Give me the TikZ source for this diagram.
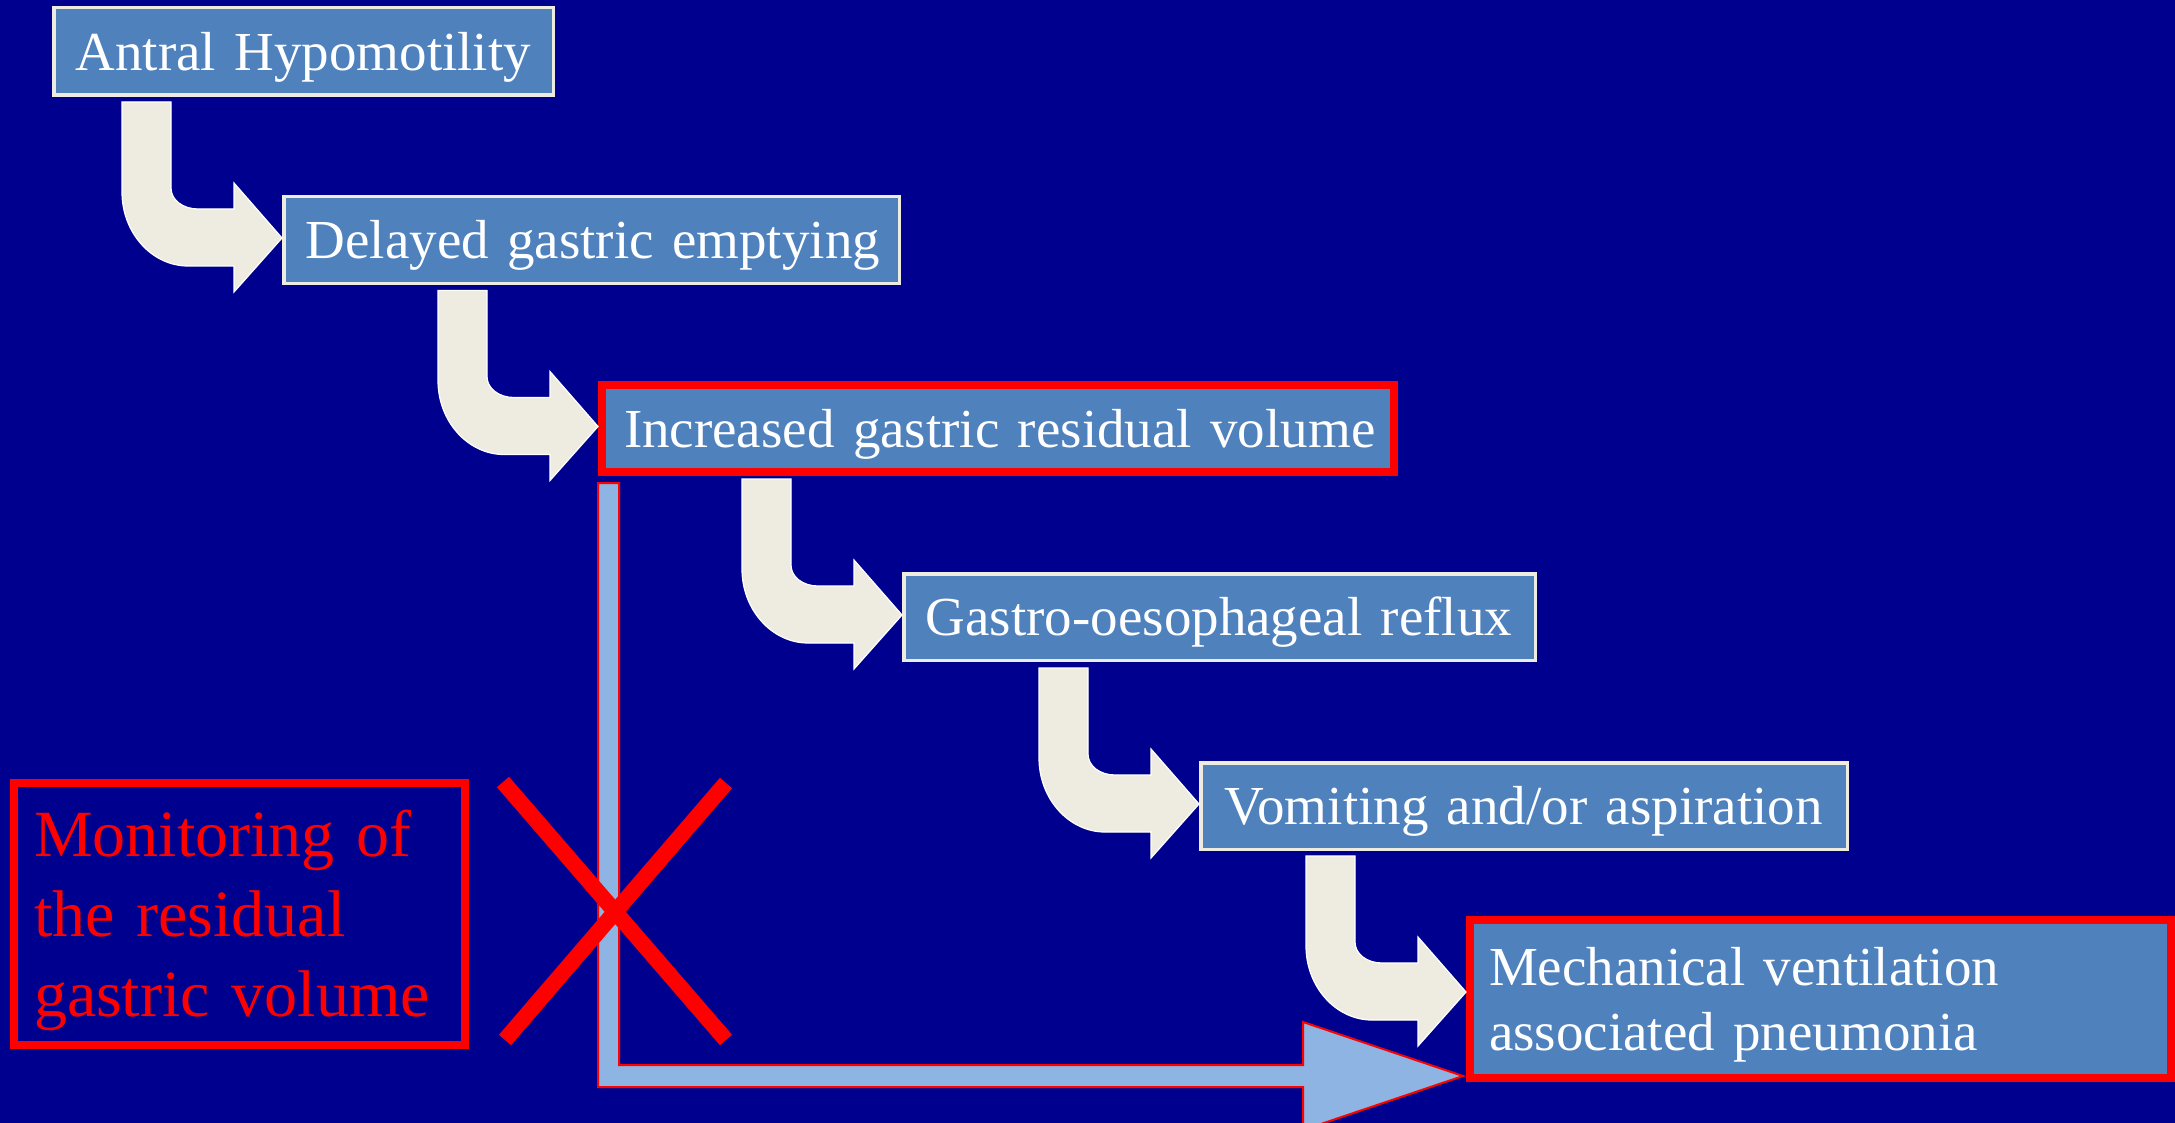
\documentclass[tikz,border=0pt]{standalone}
\usepackage{fontspec}
\setmainfont{Liberation Serif}
\usetikzlibrary{calc}
\definecolor{bgblue}{RGB}{0,0,143}
\definecolor{boxblue}{RGB}{79,129,189}
\definecolor{cream}{RGB}{238,236,225}
\definecolor{lblue}{RGB}{142,180,227}
\newcommand\mystrut{\rule[-0.216em]{0pt}{1.107em}}
\tikzset{
  bentarrow/.pic={
    \path[fill=cream, draw=white, line width=1.2pt]
      (0,0) -- (49,0) -- (49,86) .. controls (49,98) and (61,107) .. (76,107)
      -- (112,107) -- (112,81) -- (160,136) -- (112,190) -- (112,164) -- (66,164)
      .. controls (30,164) and (0,131) .. (0,90) -- cycle;
  },
  box/.style={draw=cream, line width=3.5pt, fill=boxblue, text=white,
    inner xsep=22pt, inner ysep=0pt, align=left,
    font=\fontsize{55}{65}\selectfont},
  redbox/.style={box, draw=red, line width=8pt},
  monbox/.style={draw=red, line width=8pt, text=red, inner xsep=20pt, inner ysep=0pt,
    align=left, font=\fontsize{66}{80}\selectfont},
  redx/.style={draw=red, line width=16pt},
  larrow/.style={fill=lblue, draw=red, line width=2pt}
}
\begin{document}
\begin{tikzpicture}[x=1pt,y=-1pt]
\useasboundingbox (0,0) rectangle (2175,1123);
\clip (0,0) rectangle (2175,1123);
\fill[bgblue] (0,0) rectangle (2175,1123);

% boxes
\node[box, minimum width=499.5pt, minimum height=87.5pt, text width=455.5pt] (b1) at (303.5,51.5)
  {\mbox{\mystrut Antral Hypomotility}};
\node[box, minimum width=615.5pt, minimum height=86.5pt, text width=571.5pt] (b2) at (591.5,240)
  {\mbox{\mystrut Delayed gastric emptying}};
\node[redbox, minimum width=792pt, minimum height=87pt, text width=748pt] (b3) at (998,428.5)
  {\mbox{\mystrut Increased gastric residual volume}};
\node[box, minimum width=631.5pt, minimum height=86.5pt, text width=587.5pt] (b4) at (1219.5,617)
  {\mbox{\mystrut Gastro-oesophageal reflux}};
\node[box, minimum width=642.5pt, minimum height=86.5pt, text width=598.5pt, inner xsep=24pt] (b5) at (1524,806)
  {\mbox{\mystrut Vomiting and/or aspiration}};
\node[redbox, minimum width=701pt, minimum height=158pt, text width=663pt, inner xsep=19pt] (b6) at (1820.5,999)
  {\mystrut Mechanical ventilation\\\mystrut associated pneumonia};

% bent arrows
\pic at ($(b2.west)+(-160,-138)$) {bentarrow};
\pic at ($(b3.west)+(-160,-138)$) {bentarrow};
\pic at ($(b4.west)+(-160,-138)$) {bentarrow};
\pic at ($(b5.west)+(-160,-138)$) {bentarrow};
\pic at ($(b6.west)+(-160,-143)$) {bentarrow};

% L-shaped arrow
\coordinate (Ls) at ($(b3.south west)+(0,7)$);
\coordinate (Lt) at ($(b6.south west)+(-3,-6)$);
\path[larrow] (Ls) -- ++(21,0) |- ($(Lt)+(-160,-11)$) -- ++(0,-43) -- (Lt)
  -- ++(-160,54) -- ++(0,-43) -| (Ls) -- cycle;

% red X
\draw[redx] (503,782) -- (726,1040);
\draw[redx] (726,783) -- (505,1040);

% monitoring box
\node[monbox, minimum width=451pt, minimum height=262pt, text width=411pt] (mon) at (239.5,914)
  {\mystrut Monitoring of\\\mystrut the residual\\\mystrut gastric volume};
\end{tikzpicture}
\end{document}
